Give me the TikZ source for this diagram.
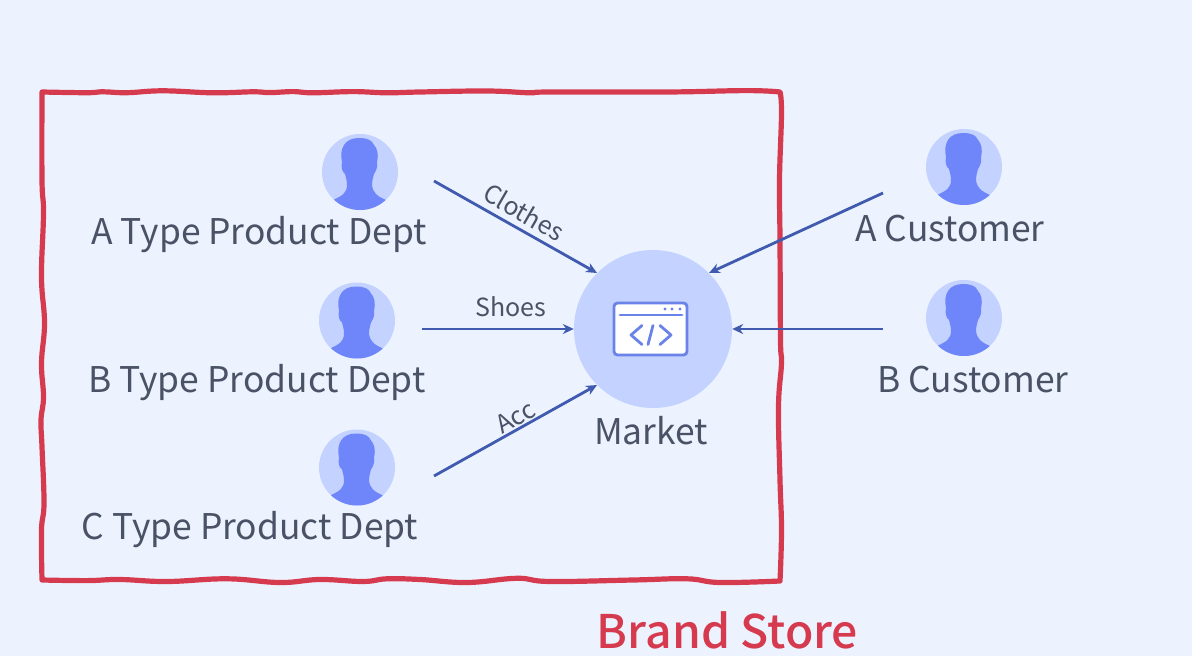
\documentclass[tikz,border=0pt]{standalone}
\usepackage{fontspec}
\setmainfont{Noto Sans CJK SC}
\newfontfamily\medfont{Noto Sans CJK SC Medium}
\usetikzlibrary{arrows.meta}
\definecolor{bgc}{HTML}{ECF3FF}
\definecolor{redc}{HTML}{D63A4E}
\definecolor{pale}{HTML}{C3D2FF}
\definecolor{mid}{HTML}{6F86FB}
\definecolor{arr}{HTML}{3F5AAE}
\definecolor{txt}{HTML}{4A5266}
\definecolor{ico}{HTML}{6B83E8}
\tikzset{
 x=1pt,y=-1pt,
 avatar/.style={circle,fill=pale,minimum size=76pt,inner sep=0pt},
 lab/.style={text=txt,font=\fontsize{35.4}{40}\selectfont,inner sep=0pt},
 small/.style={text=txt,font=\fontsize{25}{28}\selectfont,inner sep=0pt},
 link/.style={draw=arr,line width=2.8pt,-{Stealth[length=11pt,width=10pt]}},
 wobble/.style={draw=redc,line width=5.2pt,line join=round},
}
\newcommand{\person}[1]{%
 \begin{scope}
 \clip (#1) circle (38);
 \fill[mid,shift={(#1)}] (-40,40) -- (-40,34) -- (-27,28) .. controls (-18,24) and (-13,21) .. (-13,13)
  .. controls (-13,9) and (-14,6) .. (-15,2) .. controls (-18,0) and (-19,-5) .. (-18,-10)
  .. controls (-21,-24) and (-15,-34) .. (-1,-34) .. controls (7,-34) and (12,-32) .. (14,-27)
  .. controls (17,-24) and (19,-18) .. (17,-10) .. controls (18,-5) and (16,-1) .. (14,2)
  .. controls (13,6) and (12,9) .. (12,13)
  .. controls (13,21) and (17,24) .. (26,28) -- (40,34) -- (40,40) -- cycle;
 \end{scope}}
\begin{document}
\begin{tikzpicture}
\useasboundingbox (0,0) rectangle (1192,656);
\fill[bgc] (0,0) rectangle (1192,656);
\draw[wobble] plot[smooth,tension=.7] coordinates {(42,92) (87,92.7) (103,91.8) (127,92.7) (163,90.8) (213,92.8) (253,91.8) (270,92.6) (293,91.6) (313,92.8) (353,91.6) (387,92.8) (420,92) (487,91) (530,92.8) (550,92) (667,92) (747,90.6) (780,92)}
 -- plot[smooth,tension=.7] coordinates {(780,92) (781.5,113) (779.5,180) (780,240) (780.5,340) (781.5,363) (778.5,407) (780,480) (781.5,530) (780,581)}
 -- plot[smooth,tension=.7] coordinates {(780,581) (720,582.5) (687,578.8) (633,580) (550,581.5) (517,578.3) (467,582.5) (420,579.5) (387,578.8) (363,581.5) (320,579.5) (280,582.5) (227,578.8) (167,581.5) (120,579.5) (87,580.6) (42,580)}
 -- plot[smooth,tension=.7] coordinates {(42,580) (41.5,530) (44,503) (42,447) (41,420) (43.5,397) (41.5,363) (44.5,323) (41.5,277) (43.5,213) (42,180) (42,92)} -- cycle;

\node[avatar] (ap) at (360,172) {};
\node[avatar] (bp) at (357,320.5) {};
\node[avatar] (cp) at (357,467.5) {};
\node[avatar] (ac) at (964,167) {};
\node[avatar] (bc) at (964,318) {};
\person{ap}\person{bp}\person{cp}\person{ac}\person{bc}

\node[lab] (al) at (259,235) {A Type Product Dept};
\node[lab] (bl) at (257,383) {B Type Product Dept};
\node[lab] (cl) at (250,530) {C Type Product Dept};
\node[lab] (acl) at (950,229) {A Customer};
\node[lab] (bcl) at (973,380) {B Customer};

\node[circle,fill=pale,minimum size=158pt,inner sep=0pt] (mk) at (653,329) {};
\node[lab] (ml) at (651,431) {Market};
\node[draw=ico,fill=white,line width=2.8pt,rounded corners=3.5pt,minimum width=73pt,minimum height=52pt,inner sep=0pt] (win) at (650.5,329) {};
\draw[ico,line width=2.8pt,line cap=round] (620,315) -- (682,315);
\fill[ico] (665,309) circle (1.7) (672,309) circle (1.7) (680,309) circle (1.7);
\draw[ico,line width=2.8pt,line cap=round,line join=round] (642,325.5) -- (631,335) -- (642,344.5) (660,325.5) -- (671,335) -- (660,344.5) (653,325.5) -- (648,344.5);

\coordinate (s1) at (434,181);
\coordinate (s2) at (422,329);
\coordinate (s3) at (434,476);
\coordinate (s4) at (883,193);
\coordinate (s5) at (883,329);
\draw[link] (s1) -- (mk.135);
\draw[link] (s2) -- (mk.180);
\draw[link] (s3) -- (mk.225);
\draw[link] (s4) -- (mk.45);
\draw[link] (s5) -- (mk.0);
\node[small,rotate=-30] (t1) at (524,212) {Clothes};
\node[small] (t2) at (511,307) {Shoes};
\node[small,rotate=30] (t3) at (515.5,417) {Acc};
\node[text=redc,inner sep=0pt,font=\medfont\fontsize{46.3}{50}\selectfont] (bs) at (727.5,630) {Brand Store};
\end{tikzpicture}
\end{document}
